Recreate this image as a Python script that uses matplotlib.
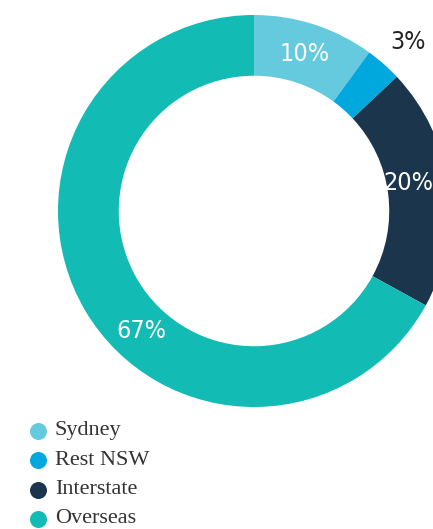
import matplotlib.pyplot as plt

regions = ['Sydney', 'Rest NSW', 'Interstate', 'Overseas']
shares = [10, 3, 20, 67]
colors = ['#66CADF', '#00A8DE', '#1B364C', '#12BBB4']
label_colors = ['white', '#222222', 'white', 'white']

fig = plt.figure(figsize=(4.33, 5.29), dpi=100)
ax = fig.add_axes([0, 0, 1, 1])

# pixel-like coordinates, y going up
cx, cy, r = 254, 529 - 211, 196
wedges, _ = ax.pie(shares, colors=colors, startangle=90, counterclock=False,
                   radius=r, center=(cx, cy),
                   wedgeprops=dict(width=r * 0.31, linewidth=0))
ax.set_xlim(0, 433)
ax.set_ylim(0, 529)
ax.set_aspect('equal')
ax.axis('off')

# percentage labels (20% sits against the right edge)
label_pos = [(305, 529 - 54, 'center'), (408, 529 - 42, 'center'),
             (433, 529 - 183, 'right'), (141, 529 - 331, 'center')]
for s, (x, y, ha), c in zip(shares, label_pos, label_colors):
    ax.text(x, y, f'{s}%', color=c, fontsize=18, ha=ha, va='center',
            fontstretch='condensed', fontweight='light',
            family=['DejaVu Sans'])

# legend
for i, (name, c) in enumerate(zip(regions, colors)):
    y = 529 - (431 + i * 29.3)
    ax.scatter([38], [y], s=150, color=c, linewidths=0)
    ax.text(55, y, name, fontsize=16, color='#333333', va='center', ha='left',
            family='Liberation Serif')

fig.savefig('out.png', dpi=100)
